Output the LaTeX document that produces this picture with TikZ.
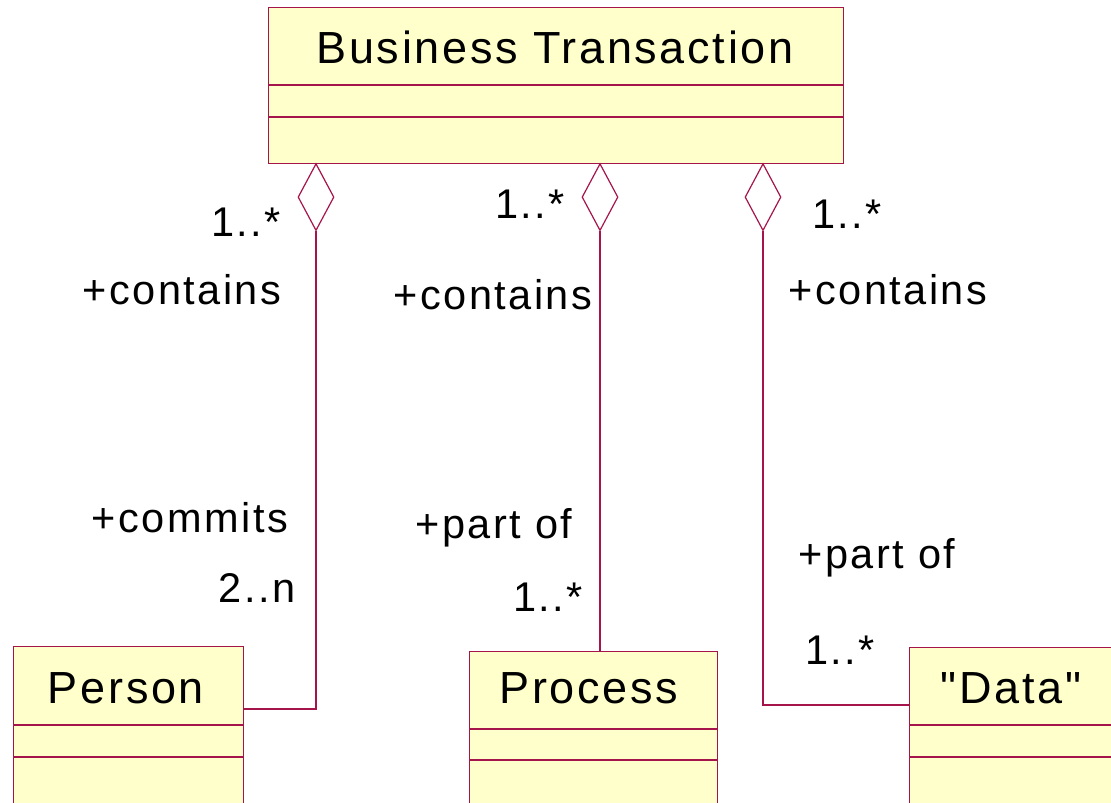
\documentclass[tikz,border=0pt]{standalone}
\usepackage{fontspec}
\setmainfont{Liberation Sans}
\newfontfamily\umlfont[LetterSpace=6]{Liberation Sans}
\usetikzlibrary{shapes.geometric}
\definecolor{umlline}{RGB}{165,20,75}
\definecolor{umlfill}{RGB}{255,255,204}
\tikzset{
  umlbox/.style={draw=umlline, fill=umlfill, line width=1.2pt, anchor=north west, inner sep=0pt, rectangle},
  divider/.style={draw=umlline, line width=1.2pt},
  agg/.style={diamond, draw=umlline, fill=white, line width=1.2pt, minimum width=36pt, minimum height=67pt, inner sep=0pt, anchor=north, aspect=0.5},
  assoc/.style={draw=umlline, line width=1.2pt},
  title/.style={font=\umlfont\fontsize{45}{48}\selectfont, inner sep=0pt},
  lab/.style={font=\umlfont\fontsize{41.5}{44}\selectfont, inner sep=0pt}
}
\begin{document}
\begin{tikzpicture}[x=1pt,y=-1pt]
\useasboundingbox (0,0) rectangle (1111,803);
\clip (0,0) rectangle (1111,803);
% Business Transaction
\node[umlbox, minimum width=575pt, minimum height=156pt] (bt) at (268,7) {};
\draw[divider] (268,85) -- (843,85);
\draw[divider] (268,117) -- (843,117);
\node[title] (btt) at (555,47) {Business Transaction};
% Person
\node[umlbox, minimum width=230pt, minimum height=170pt] (person) at (13,646) {};
\draw[divider] (13,725) -- (243,725);
\draw[divider] (13,757) -- (243,757);
\node[title] (persont) at (126,688) {Person};
% Process
\node[umlbox, minimum width=248pt, minimum height=170pt] (proc) at (469,651) {};
\draw[divider] (469,729) -- (717,729);
\draw[divider] (469,760) -- (717,760);
\node[title] (proct) at (589,688) {Process};
% Data
\node[umlbox, minimum width=230pt, minimum height=170pt] (data) at (909,647) {};
\draw[divider] (909,725) -- (1120,725);
\draw[divider] (909,757) -- (1120,757);
\node[title] (datat) at (1011,688) {"Data"};
% diamonds
\node[agg] (d1) at (316,163) {};
\node[agg] (d2) at (600,163) {};
\node[agg] (d3) at (763,163) {};
% connection points
\coordinate (pe) at (243,709);
\coordinate (de) at (909,705);
\draw[assoc] (d1.south) |- (pe);
\draw[assoc] (d2.south) -- (d2.south |- proc.north);
\draw[assoc] (d3.south) |- (de);
% labels
\node[lab] (l1) at (246,222) {1..*};
\node[lab] (l2) at (182,290) {+contains};
\node[lab] (l3) at (530,204) {1..*};
\node[lab] (l4) at (493,295) {+contains};
\node[lab] (l5) at (847,214) {1..*};
\node[lab] (l6) at (888,290) {+contains};
\node[lab] (l7) at (190,518) {+commits};
\node[lab] (l8) at (257,588) {2..n};
\node[lab] (l9) at (494,528) {+part of};
\node[lab] (l10) at (548,597) {1..*};
\node[lab] (l11) at (877,558) {+part of};
\node[lab] (l12) at (840,650) {1..*};
\end{tikzpicture}
\end{document}
